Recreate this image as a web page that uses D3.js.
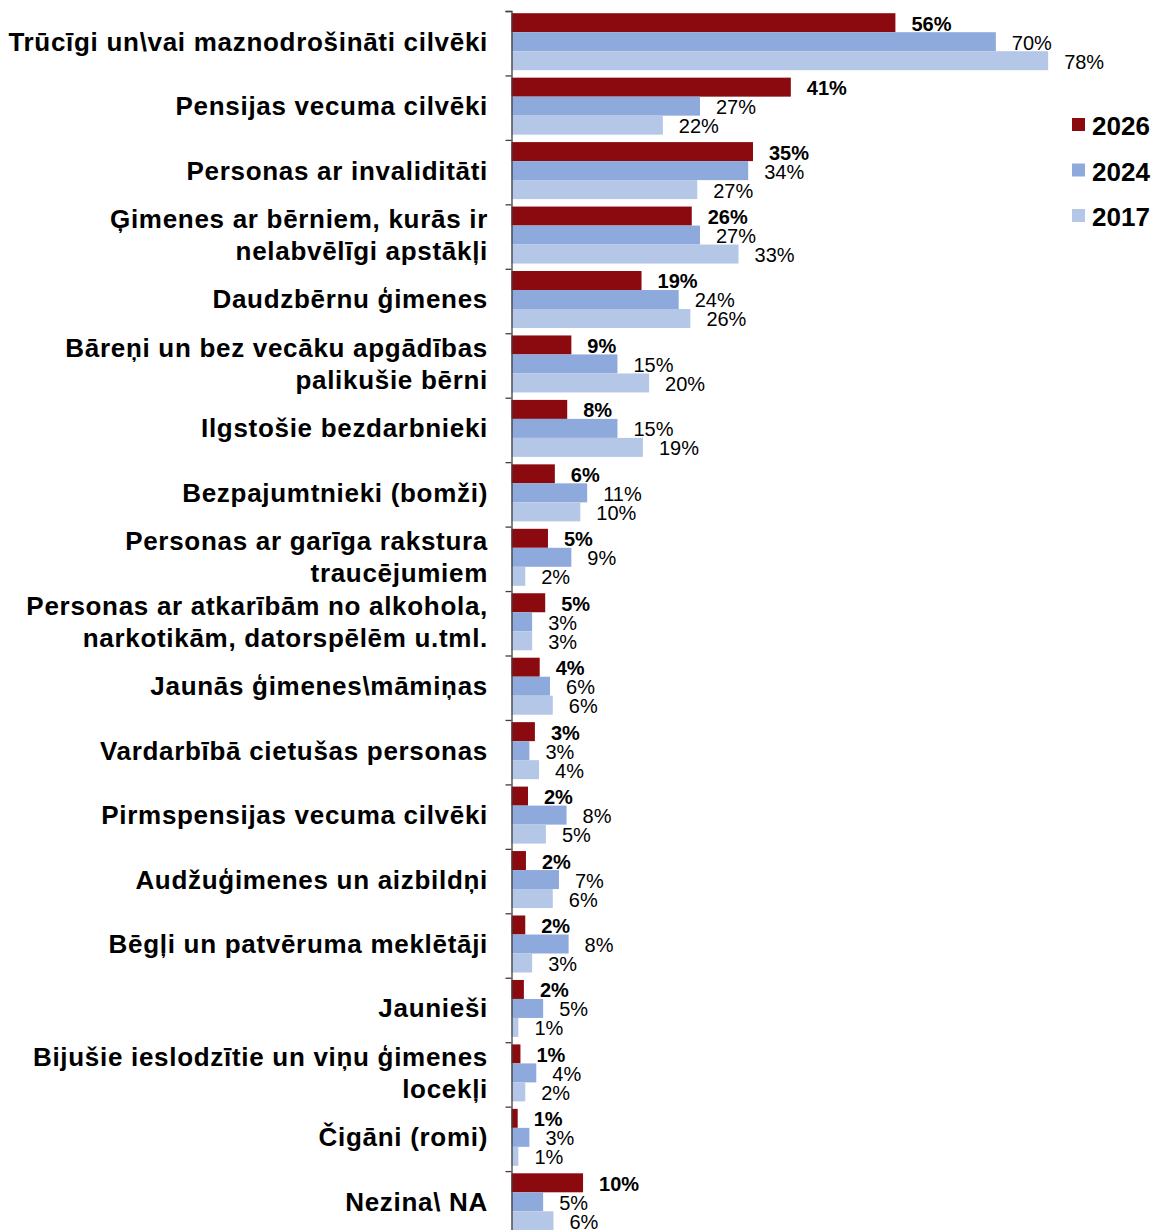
<!DOCTYPE html>
<html>
<head>
<meta charset="utf-8">
<script src="https://cdn.jsdelivr.net/npm/d3@7"></script>
<style>
  body { margin: 0; background: #fff; }
  svg text { font-family: "Liberation Sans", Arial, sans-serif; }
</style>
</head>
<body>
<div id="chart"></div>
<script>
// categories (top to bottom), multi-line labels split with |
var categories = [
    "Trūcīgi un\\vai maznodrošināti cilvēki",
    "Pensijas vecuma cilvēki",
    "Personas ar invaliditāti",
    "Ģimenes ar bērniem, kurās ir|nelabvēlīgi apstākļi",
    "Daudzbērnu ģimenes",
    "Bāreņi un bez vecāku apgādības|palikušie bērni",
    "Ilgstošie bezdarbnieki",
    "Bezpajumtnieki (bomži)",
    "Personas ar garīga rakstura|traucējumiem",
    "Personas ar atkarībām no alkohola,|narkotikām, datorspēlēm u.tml.",
    "Jaunās ģimenes\\māmiņas",
    "Vardarbībā cietušas personas",
    "Pirmspensijas vecuma cilvēki",
    "Audžuģimenes un aizbildņi",
    "Bēgļi un patvēruma meklētāji",
    "Jaunieši",
    "Bijušie ieslodzītie un viņu ģimenes|locekļi",
    "Čigāni (romi)",
    "Nezina\\ NA"
];

var years = ["2026", "2024", "2017"];
// percentages (labels are rounded)
var v2026 = [55.8, 40.6, 35.1, 26.2, 18.9, 8.7, 8.1, 6.3, 5.3, 4.9, 4.1, 3.4, 2.4, 2.1, 2.0, 1.8, 1.3, 0.9, 10.4];
var v2024 = [70.4, 27.4, 34.4, 27.4, 24.3, 15.4, 15.4, 11.0, 8.7, 3.0, 5.6, 2.6, 8.0, 6.9, 8.3, 4.6, 3.6, 2.6, 4.6];
var v2017 = [78.0, 22.0, 27.0, 33.0, 26.0, 20.0, 19.1, 10.0, 2.0, 3.0, 6.0, 4.0, 5.0, 6.0, 3.0, 1.0, 2.0, 1.0, 6.1];
var colors = ["#8b0a10", "#8eaadc", "#b4c7e7"];

var series = [v2026, v2024, v2017];

var W = 1157, H = 1230;
var axisX = 511.5, plotTop = 11;
var groupH = 64.45;

var svg = d3.select("#chart").append("svg")
    .attr("width", W)
    .attr("height", H);

var x = d3.scaleLinear().domain([0, 100]).range([axisX, axisX + 688]);

var y0 = d3.scaleBand()
    .domain(d3.range(categories.length))
    .range([plotTop, plotTop + groupH * categories.length]);

var y1 = d3.scaleBand()
    .domain(d3.range(years.length))
    .range([2.2, 2.2 + 19 * 3]);

var groups = svg.append("g").selectAll("g.grp")
    .data(categories)
    .enter().append("g")
    .attr("class", "grp")
    .attr("transform", (d, i) => `translate(0,${y0(i)})`);

groups.each(function (cat, i) {
    var g = d3.select(this);
    series.forEach(function (s, k) {
        g.append("rect")
            .attr("x", x(0))
            .attr("y", y1(k))
            .attr("width", x(s[i]) - x(0))
            .attr("height", y1.bandwidth())
            .attr("fill", colors[k]);
    });
    series.forEach(function (s, k) {
        g.append("text")
            .attr("x", x(s[i]) + 16)
            .attr("y", y1(k) + y1.bandwidth() / 2 + 1)
            .attr("dominant-baseline", "central")
            .attr("font-size", 20)
            .attr("font-weight", k == 0 ? "bold" : "normal")
            .attr("fill", "#000")
            .text(Math.round(s[i]) + "%");
    });

    // category label
    var lines = cat.split("|");
    var cy = y1(0) + 1.5 * y1.bandwidth();
    var t = g.append("text")
        .attr("text-anchor", "end")
        .attr("font-size", 26)
        .attr("letter-spacing", 0.7)
        .attr("font-weight", "bold")
        .attr("fill", "#000");
    lines.forEach(function (ln, j) {
        t.append("tspan")
            .attr("x", 488)
            .attr("y", cy + (j - (lines.length - 1) / 2) * 32)
            .attr("dominant-baseline", "central")
            .text(ln);
    });
});

// axis line with tick marks at group boundaries
var yAxis = d3.axisLeft(d3.scaleLinear().domain([0, categories.length]).range([plotTop, plotTop + groupH * categories.length]))
    .ticks(categories.length)
    .tickSize(6)
    .tickFormat("");

svg.append("g")
    .attr("class", "axis")
    .attr("transform", `translate(${axisX},0)`)
    .call(yAxis)
    .call(g => g.selectAll("line,path").attr("stroke", "#404040").attr("stroke-width", 1.3));

// legend
var legend = svg.append("g").selectAll("g")
    .data(years)
    .enter().append("g")
    .attr("transform", (d, i) => `translate(1072,${125 + i * 45.5})`);

legend.append("rect")
    .attr("x", 0)
    .attr("y", -7)
    .attr("width", 13)
    .attr("height", 13)
    .attr("fill", (d, i) => colors[i]);

legend.append("text")
    .attr("x", 20)
    .attr("y", 1)
    .attr("dominant-baseline", "central")
    .attr("font-size", 26)
    .attr("font-weight", "bold")
    .text(d => d);
</script>
</body>
</html>
